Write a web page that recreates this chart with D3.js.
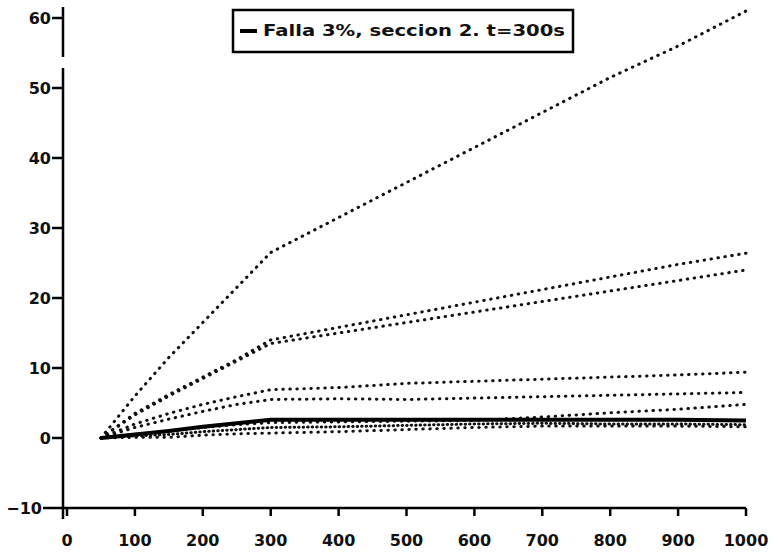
<!DOCTYPE html>
<html>
<head>
<meta charset="utf-8">
<script src="https://cdn.jsdelivr.net/npm/d3@7/dist/d3.min.js"></script>
<style>
  body { margin: 0; background: #fff; }
  text { font-family: "DejaVu Sans", sans-serif; font-weight: bold; fill: #111; }
</style>
</head>
<body>
<svg id="chart" width="777" height="554"></svg>
<script>
// data
const xTicks = [0, 100, 200, 300, 400, 500, 600, 700, 800, 900, 1000];
const yTicks = [-10, 0, 10, 20, 30, 40, 50, 60];
const xValues = [50, 100, 150, 200, 250, 300, 400, 500, 600, 700, 800, 900, 1000];

const dotted1 = [0, 6, 11.5, 16.5, 21.5, 26.5, 31.5, 36.5, 41.5, 46.5, 51.5, 56, 61];
const dotted2 = [0, 3.5, 6.2, 8.7, 11.2, 14, 15.8, 17.6, 19.4, 21.2, 23, 24.8, 26.4];
const dotted3 = [0, 3.3, 6, 8.5, 11, 13.5, 15, 16.5, 18, 19.5, 21, 22.5, 24];
const dotted4 = [0, 2, 3.5, 4.8, 5.9, 6.9, 7.2, 7.8, 8.1, 8.4, 8.7, 9, 9.4];
const dotted5 = [0, 1.5, 2.7, 3.8, 4.8, 5.5, 5.6, 5.5, 5.7, 5.9, 6.1, 6.3, 6.5];
const dotted6 = [0, 0.5, 1.0, 1.5, 1.9, 2.2, 2.3, 2.4, 2.5, 3.0, 3.6, 4.1, 4.8];
const dotted7 = [0, 0.1, 0.1, 0.4, 0.6, 0.7, 0.9, 1.2, 1.5, 1.7, 1.7, 1.7, 1.6];
const dotted8 = [0, 0.3, 0.5, 0.9, 1.2, 1.5, 1.6, 1.8, 2.0, 2.1, 2.0, 2.0, 1.9];
const solidSeries = [0, 0.5, 1.0, 1.6, 2.1, 2.6, 2.6, 2.6, 2.6, 2.6, 2.6, 2.6, 2.5];

const legendLabel = "Falla 3%, seccion 2. t=300s";

const svg = d3.select("#chart");

const x = d3.scaleLinear().domain([0, 1000]).range([67, 746]);
const y = d3.scaleLinear().domain([-10, 60]).range([508, 18]);

const line = d3.line()
  .x((d, i) => x(xValues[i]))
  .y(d => y(d));

// dotted series
const dottedSets = [dotted1, dotted2, dotted3, dotted4, dotted5, dotted6, dotted7, dotted8];
svg.append("g")
  .selectAll("path")
  .data(dottedSets)
  .join("path")
    .attr("d", line)
    .attr("fill", "none")
    .attr("stroke", "#111")
    .attr("stroke-width", 3)
    .attr("stroke-linecap", "round")
    .attr("stroke-dasharray", (d, i) => i === 7 ? "0.5 4" : "0.5 6.5");

// the thick solid series
svg.append("path")
  .datum(solidSeries)
  .attr("d", line)
  .attr("fill", "none")
  .attr("stroke", "#000")
  .attr("stroke-width", 4);

// y axis (drawn with a break near the top, like the original)
const axis = svg.append("g").attr("stroke", "#000").attr("stroke-width", 2.5);
axis.append("line")
  .attr("x1", x(0) - 4).attr("x2", x(0) - 4)
  .attr("y1", 7).attr("y2", 57);
axis.append("line")
  .attr("x1", x(0) - 4).attr("x2", x(0) - 4)
  .attr("y1", 68).attr("y2", 519);

axis.selectAll(".ytick")
  .data(yTicks.filter(d => d > -10))
  .join("line")
    .attr("class", "ytick")
    .attr("x1", x(0) - 15).attr("x2", x(0) - 4)
    .attr("y1", d => y(d)).attr("y2", d => y(d));

// x axis sits on the -10 line
axis.append("line")
  .attr("x1", 43).attr("x2", x(1000))
  .attr("y1", y(-10)).attr("y2", y(-10));

axis.selectAll(".xtick")
  .data(xTicks)
  .join("line")
    .attr("class", "xtick")
    .attr("x1", d => x(d)).attr("x2", d => x(d))
    .attr("y1", y(-10)).attr("y2", y(-10) + 8);

svg.append("g")
  .selectAll("text")
  .data(yTicks)
  .join("text")
    .attr("x", d => d === -10 ? 42 : x(0) - 16)
    .attr("y", d => y(d))
    .attr("dy", "0.35em")
    .attr("text-anchor", "end")
    .attr("font-size", 16)
    .text(d => d === -10 ? "\u221210" : d);

svg.append("g")
  .selectAll("text")
  .data(xTicks)
  .join("text")
    .attr("x", d => x(d))
    .attr("y", 546)
    .attr("text-anchor", "middle")
    .attr("font-size", 16)
    .text(d => d);

// legend
const legend = svg.append("g");
legend.append("rect")
  .attr("x", 233).attr("y", 10)
  .attr("width", 340).attr("height", 42)
  .attr("fill", "#fff")
  .attr("stroke", "#000")
  .attr("stroke-width", 2.5);
legend.append("line")
  .attr("x1", 240).attr("x2", 257)
  .attr("y1", 31).attr("y2", 31)
  .attr("stroke", "#000")
  .attr("stroke-width", 4);
legend.append("text")
  .attr("x", 263).attr("y", 31)
  .attr("dy", "0.35em")
  .attr("font-size", 15)
  .attr("textLength", 302)
  .attr("lengthAdjust", "spacingAndGlyphs")
  .text(legendLabel);
</script>
</body>
</html>
